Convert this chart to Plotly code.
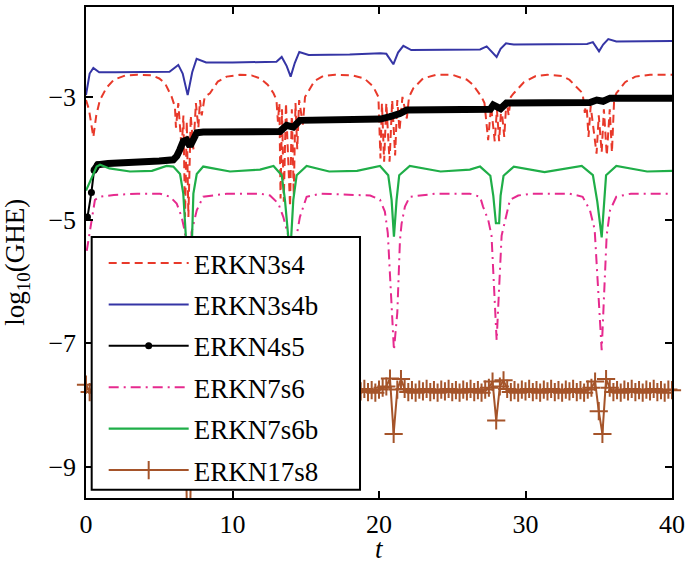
import plotly.graph_objects as go
import numpy as np

# ---------------- data ----------------
# ERKN3s4 (red dashed)
red_t = [0, 0.2, 0.5, 0.7, 0.95, 1.4, 1.9, 2.7, 3.5, 4.5, 5.0, 5.4, 5.85, 6.07,
         6.14, 6.3, 6.53, 6.65, 6.76, 6.88, 6.99, 7.15, 7.33, 7.5, 7.67, 7.78, 7.9, 8.1,
         8.46, 9.0, 9.6, 10.5, 11.3, 11.9, 12.4, 12.8, 13.0,
         13.1, 13.2, 13.28, 13.38, 13.5, 13.65, 13.93, 14.05, 14.18, 14.3, 14.42, 14.55, 14.8, 14.95,
         15.2, 15.6, 16.2, 17.0, 18.2, 19.0, 19.6, 19.96,
         20.1, 20.2, 20.35, 20.5, 20.72, 20.9, 21.1, 21.25, 21.4, 21.6, 21.9, 22.05,
         22.34, 23.0, 23.9, 25.0, 26.0, 26.4, 27.0,
         27.2, 27.45, 27.65, 27.9, 28.05, 28.2, 28.35, 28.55, 28.7, 28.85, 29.0,
         29.2, 29.9, 30.7, 31.5, 32.5, 33.0, 33.4, 33.9,
         34.05, 34.15, 34.3, 34.45, 34.85, 35.0, 35.2, 35.35, 35.55, 35.75, 35.9, 36.05,
         36.2, 36.8, 37.5, 38.5, 40.0]
red_v = [-3.05, -3.2, -3.65, -3.3, -3.05, -2.85, -2.72, -2.65, -2.64, -2.65, -2.7, -2.78, -3.0, -3.16,
         -3.5, -3.1, -3.85, -3.3, -4.95, -3.4, -4.95, -3.3, -3.85, -3.1, -3.5, -3.05, -3.3, -3.0,
         -2.94, -2.75, -2.67, -2.64, -2.65, -2.7, -2.8, -2.94, -3.05,
         -3.4, -3.1, -4.65, -3.2, -4.7, -3.1, -4.78, -3.2, -4.6, -3.1, -3.85, -3.05, -3.45, -3.0,
         -2.9, -2.74, -2.66, -2.64, -2.65, -2.7, -2.83, -3.0,
         -4.0, -3.1, -4.05, -3.1, -4.05, -3.05, -3.95, -3.05, -3.55, -3.0, -3.35, -3.0,
         -2.86, -2.7, -2.64, -2.64, -2.72, -2.8, -3.0,
         -3.1, -3.7, -3.15, -3.72, -3.2, -3.72, -3.15, -3.65, -3.05, -3.3, -3.0,
         -2.94, -2.76, -2.66, -2.64, -2.66, -2.72, -2.82, -2.94,
         -3.26, -3.05, -3.65, -3.15, -3.92, -3.3, -3.9, -3.2, -3.95, -3.2, -3.9, -3.05,
         -2.94, -2.76, -2.67, -2.64, -2.64]

# ERKN3s4b (blue solid)
blue_t = [0, 0.25, 0.5, 0.9, 2, 4, 5.7, 6.3, 6.6, 6.94, 7.25, 7.55, 8.2, 10, 13.0, 13.36,
          13.7, 13.97, 14.25, 14.56, 15.2, 18, 20.1, 20.5, 20.98, 21.3, 21.66, 22.2, 24,
          26.9, 27.35, 28.03, 28.3, 28.67, 29.2, 32, 34.2, 34.6, 35.02, 35.3, 35.65, 36.2, 40]
blue_v = [-2.97, -2.62, -2.53, -2.6, -2.6, -2.6, -2.59, -2.48, -2.62, -2.97, -2.6, -2.38, -2.44, -2.44,
          -2.43, -2.35, -2.5, -2.67, -2.45, -2.27, -2.32, -2.31, -2.29, -2.3, -2.47, -2.28, -2.17,
          -2.24, -2.24, -2.23, -2.18, -2.35, -2.22, -2.13, -2.15, -2.15, -2.14, -2.11, -2.26,
          -2.15, -2.06, -2.1, -2.09]

# ERKN4s5 (black with dots)
black_t_start = [0.1, 0.37, 0.55, 0.8]
black_v_start = [-4.95, -4.55, -4.19, -4.1]
black_t = [0.55, 0.8, 1.5, 3.0, 5.0, 5.96, 6.2, 6.4, 6.64, 6.87, 7.1, 7.33, 7.56, 8.0, 10.0,
           13.24, 13.7, 14.15, 14.6, 17.0, 20.1, 20.75, 21.2, 21.43, 21.9, 24.2, 27.1, 27.6,
           27.8, 28.3, 28.7, 31.0, 34.4, 34.86, 35.3, 35.77, 37.8, 40.0]
black_v = [-4.19, -4.1, -4.08, -4.07, -4.04, -4.02, -3.96, -3.86, -3.72, -3.7, -3.8, -3.69, -3.58,
           -3.57, -3.57, -3.56, -3.46, -3.49, -3.38, -3.37, -3.36, -3.32, -3.29, -3.27, -3.21,
           -3.21, -3.2, -3.2, -3.13, -3.19, -3.1, -3.09, -3.09, -3.05, -3.07, -3.02, -3.01, -3.02]

# ERKN7s6 (magenta dash-dot)
mag_t = [0.05, 0.27, 0.61, 0.96, 1.9, 3.5, 5.05, 5.73, 6.19, 6.53, 6.76, 6.95, 7.05, 7.15, 7.2,
         7.56, 8.0, 9.6, 11.88, 12.56, 13.13, 13.47, 13.8, 14.05, 14.38, 14.6, 15.06, 16.0,
         19.4, 20.07, 20.4, 20.6, 21.02, 21.25, 21.43, 21.54, 21.77, 22.1, 23.9,
         26.2, 26.9, 27.1, 27.46, 27.68, 28.03, 28.37, 28.6, 28.94, 29.5, 30.4,
         33.0, 33.9, 34.4, 34.72, 35.2, 35.54, 35.77, 36.2, 37.2, 40.0]
mag_v = [-5.5, -5.16, -4.67, -4.62, -4.59, -4.57, -4.57, -4.62, -4.73, -4.95, -5.2, -6.4, -7.1, -6.4, -5.2,
         -4.84, -4.62, -4.57, -4.57, -4.6, -4.73, -4.95, -5.25, -7.1, -5.25, -4.95, -4.62, -4.57,
         -4.6, -4.67, -4.86, -5.21, -7.11, -6.5, -5.33, -5.06, -4.78, -4.62, -4.57,
         -4.57, -4.62, -4.78, -5.0, -5.25, -6.95, -5.25, -5.0, -4.67, -4.6, -4.57,
         -4.57, -4.62, -4.84, -5.15, -7.11, -5.25, -4.84, -4.62, -4.57, -4.57]

# ERKN7s6b (green solid)
green_t = [0, 0.3, 0.73, 0.96, 1.6, 3.0, 4.5, 5.5, 5.96, 6.42, 6.64, 6.9, 7.05, 7.2, 7.33, 7.56,
           8.0, 9.83, 11.88, 12.8, 13.36, 13.58, 13.93, 14.15, 14.38, 15.06, 16.6, 18.5,
           20.07, 20.63, 20.86, 21.02, 21.2, 21.38, 22.1, 24.2, 26.2, 26.9, 27.6, 27.8, 27.98,
           28.2, 28.3, 28.5, 29.2, 31.3, 33.84, 34.6, 34.9, 35.2, 35.35, 35.5, 36.2, 38.3, 40.0]
green_v = [-4.52, -4.35, -4.13, -4.1, -4.16, -4.21, -4.2, -4.12, -4.13, -4.25, -4.57, -5.6, -5.8, -5.6,
           -4.57, -4.25, -4.13, -4.21, -4.18, -4.12, -4.27, -4.67, -5.6, -4.67, -4.27, -4.12,
           -4.21, -4.2, -4.12, -4.27, -4.67, -5.27, -4.67, -4.27, -4.12, -4.21, -4.18, -4.13,
           -4.28, -4.6, -5.05, -5.05, -4.6, -4.28, -4.13, -4.22, -4.12, -4.27, -4.7, -5.28,
           -4.7, -4.27, -4.12, -4.21, -4.2]

# ERKN17s8 (brown with + markers), sampled every 0.25 in t from 0 to 40
brown_t = np.round(np.arange(0, 40.001, 0.25), 2)
brown_v = [
    -7.67, -7.79, -7.75, -7.80, -7.74, -7.78, -7.76, -7.80, -7.75, -7.79,
    -7.74, -7.79, -7.76, -7.80, -7.75, -7.78, -7.74, -7.79, -7.76, -7.80,
    -7.75, -7.78, -7.74, -7.79, -7.76, -7.74, -7.70, -7.60, -11.5, -7.62,
    -7.74, -7.79, -7.76, -7.80, -7.75, -7.78, -7.74, -7.79, -7.76, -7.80,
    -7.75, -7.78, -7.74, -7.79, -7.76, -7.80, -7.75, -7.78, -7.74, -7.79,
    -7.75, -7.78, -7.74, -7.79, -7.70, -7.60, -8.60, -7.62, -7.74, -7.79,
    -7.76, -7.80, -7.75, -7.78, -7.74, -7.79, -7.76, -7.80, -7.75, -7.78,
    -7.74, -7.79, -7.76, -7.80, -7.75, -7.78, -7.74, -7.79, -7.76, -7.80,
    -7.75, -7.72, -7.70, -7.57, -8.47, -7.75, -7.58, -7.74, -7.79, -7.76,
    -7.80, -7.75, -7.78, -7.74, -7.79, -7.76, -7.80, -7.75, -7.78, -7.74,
    -7.79, -7.76, -7.80, -7.75, -7.78, -7.74, -7.79, -7.76, -7.80, -7.75,
    -7.72, -7.62, -8.25, -7.70, -7.60, -7.74, -7.79, -7.76, -7.80, -7.75,
    -7.78, -7.74, -7.79, -7.76, -7.80, -7.75, -7.78, -7.74, -7.79, -7.76,
    -7.80, -7.75, -7.78, -7.74, -7.79, -7.76, -7.80, -7.75, -7.72, -7.62,
    -8.10, -8.47, -7.58, -7.72, -7.79, -7.76, -7.80, -7.75, -7.78, -7.74,
    -7.79, -7.76, -7.80, -7.75, -7.78, -7.74, -7.79, -7.76, -7.80, -7.75,
    -7.76]

names = ["ERKN3s4", "ERKN3s4b", "ERKN4s5", "ERKN7s6", "ERKN7s6b", "ERKN17s8"]
x_ticks = [0, 10, 20, 30, 40]
y_ticks = [-3, -5, -7, -9]

# ---------------- styles ----------------
RED = "#e8392a"
BLUE = "#3535a5"
BLACK = "#000000"
MAG = "#e62a8e"
GREEN = "#1fae48"
BROWN = "#a5542a"
FONT = "Liberation Serif"

fig = go.Figure()

fig.add_trace(go.Scatter(x=red_t, y=red_v, mode="lines", name=names[0], legendgroup="a",
                         line=dict(color=RED, width=2, dash="8px,5px")))
fig.add_trace(go.Scatter(x=blue_t, y=blue_v, mode="lines", name=names[1], legendgroup="b",
                         line=dict(color=BLUE, width=2)))
fig.add_trace(go.Scatter(x=black_t, y=black_v, mode="lines", showlegend=False,
                         line=dict(color=BLACK, width=7)))
fig.add_trace(go.Scatter(x=black_t_start, y=black_v_start, mode="lines+markers", showlegend=False,
                         line=dict(color=BLACK, width=2), marker=dict(size=7, color=BLACK)))
fig.add_trace(go.Scatter(x=[None], y=[None], mode="lines+markers", name=names[2], legendgroup="c",
                         line=dict(color=BLACK, width=2), marker=dict(size=7, color=BLACK)))
fig.add_trace(go.Scatter(x=mag_t, y=mag_v, mode="lines", name=names[3], legendgroup="d",
                         line=dict(color=MAG, width=2, dash="10px,5px,2px,5px")))
fig.add_trace(go.Scatter(x=green_t, y=green_v, mode="lines", name=names[4], legendgroup="e",
                         line=dict(color=GREEN, width=2.2)))
fig.add_trace(go.Scatter(x=brown_t, y=brown_v, mode="lines+markers", name=names[5], legendgroup="f",
                         cliponaxis=False,
                         line=dict(color=BROWN, width=2),
                         marker=dict(symbol="cross-thin", size=13, color=BROWN,
                                     line=dict(color=BROWN, width=2))))

axis_common = dict(showline=True, linecolor="black", linewidth=1.5, mirror="ticks",
                   ticks="inside", ticklen=7, tickwidth=1.5, tickcolor="black",
                   showgrid=False, zeroline=False, automargin=False,
                   tickfont=dict(family=FONT, size=26, color="black"))

fig.update_xaxes(range=[0, 40], tickvals=x_ticks, ticklabelstandoff=2, **axis_common)
fig.update_yaxes(range=[-9.51, -1.54], tickvals=y_ticks, ticklabelstandoff=3, **axis_common)

fig.update_layout(
    width=685, height=565,
    margin=dict(l=86, r=13, t=7, b=67),
    paper_bgcolor="white", plot_bgcolor="white",
    font=dict(family=FONT, color="black"),
    legend=dict(x=0.0097, y=0.5275, xanchor="left", yanchor="top",
                bgcolor="rgba(0,0,0,0)", borderwidth=0,
                font=dict(family=FONT, size=27, color="black"),
                traceorder="grouped", tracegroupgap=3.3, itemwidth=80, indentation=12),
    shapes=[
        dict(type="rect", xref="paper", yref="paper", x0=0.0097, x1=0.4676, y0=0.0169, y1=0.5315,
             fillcolor="white", line=dict(color="black", width=2), layer="above"),
    ],
    annotations=[
        dict(text="<i>t</i>", xref="paper", yref="paper", x=0.5, y=-0.104,
             xanchor="center", yanchor="middle", showarrow=False,
             font=dict(family=FONT, size=27, color="black")),
        dict(text="log<sub>10</sub>(GHE)", xref="paper", yref="paper", x=-0.118, y=0.481,
             xanchor="center", yanchor="middle", textangle=-90, showarrow=False,
             font=dict(family=FONT, size=27, color="black")),
    ],
)

fig.write_html("out.html", config={"displayModeBar": False},
               post_script="document.body.style.margin='0';document.body.style.overflow='hidden';")
